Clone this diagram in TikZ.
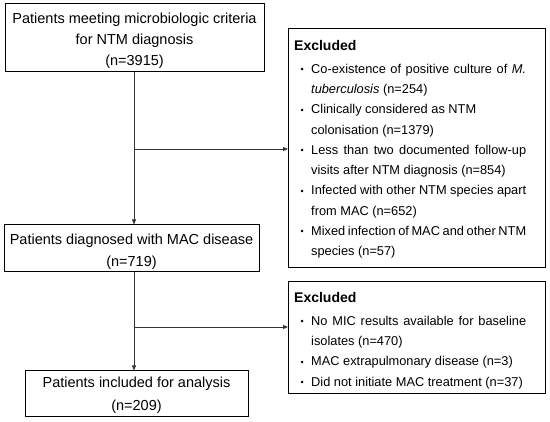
\documentclass[tikz,border=0pt]{standalone}
\usepackage{fontspec}
\setmainfont{Liberation Sans}
\usetikzlibrary{arrows.meta}
\newcommand{\bitem}[1]{\par\noindent\hangindent=17pt\hangafter=1\makebox[17pt][l]{\hspace{6.5pt}{\fontsize{9}{9}\selectfont\raisebox{0.6pt}{\textbullet}}}#1\par}
\begin{document}
\begin{tikzpicture}[x=1pt,y=-1pt,
  mainbox/.style={draw, line width=1pt, align=center, inner sep=0pt, font=\fontsize{14.5}{21}\selectfont},
  exbox/.style={draw, line width=1pt, anchor=north west, inner sep=0pt},
  extext/.style={anchor=north west, inner sep=0pt},
  conn/.style={line width=0.9pt, draw=black!80},
  arr/.style={conn, -{Triangle[length=5pt,width=4pt]}}]
\useasboundingbox (0,0) rectangle (550,422);

\node[mainbox, minimum width=259pt, minimum height=68pt] (box1) at (134.5,38)
  {\rule{0pt}{17pt}Patients meeting microbiologic criteria\\for NTM diagnosis\\(n=3915)};
\node[mainbox, minimum width=255pt, minimum height=47pt] (box2) at (131.5,248.5)
  {\rule{0pt}{18pt}Patients diagnosed with MAC disease\\[1pt](n=719)};
\node[mainbox, minimum width=223pt, minimum height=46pt] (box3) at (136.5,394)
  {\rule{0pt}{14pt}Patients included for analysis\\[2pt](n=209)};

\node[exbox, minimum width=257pt, minimum height=239pt] (ex1) at (288,28) {};
\node[extext] (ex1t) at (294,39.8) {\parbox{232pt}{%
  {\fontsize{14}{17}\selectfont\bfseries Excluded\par}\vspace{2.7pt}%
  \fontsize{12.8}{20.3}\selectfont
  \bitem{Co-existence of positive culture of \textit{M.}\linebreak \textit{tuberculosis} (n=254)}%
  \bitem{Clinically considered as NTM\newline colonisation (n=1379)}%
  \bitem{Less than two documented follow-up\linebreak visits after NTM diagnosis (n=854)}%
  \bitem{Infected with other NTM species apart\linebreak from MAC (n=652)}%
  \bitem{Mixed infection of MAC and other NTM\linebreak species (n=57)}}};

\node[exbox, minimum width=257pt, minimum height=112pt] (ex2) at (288,281) {};
\node[extext] (ex2t) at (294,291.8) {\parbox{232pt}{%
  {\fontsize{14}{17}\selectfont\bfseries Excluded\par}\vspace{2.7pt}%
  \fontsize{12.8}{20.3}\selectfont
  \bitem{No MIC results available for baseline\linebreak isolates (n=470)}%
  \bitem{MAC extrapulmonary disease (n=3)}%
  \bitem{Did not initiate MAC treatment (n=37)}}};

\coordinate (vx) at (134,0);
\coordinate (y1) at (0,149);
\coordinate (y2) at (0,327);
\draw[arr] (vx |- box1.south) -- (vx |- box2.north);
\draw[arr] (vx |- y1) -- (ex1.west |- y1);
\draw[arr] (vx |- box2.south) -- (vx |- box3.north);
\draw[arr] (vx |- y2) -- (ex2.west |- y2);
\end{tikzpicture}
\end{document}
